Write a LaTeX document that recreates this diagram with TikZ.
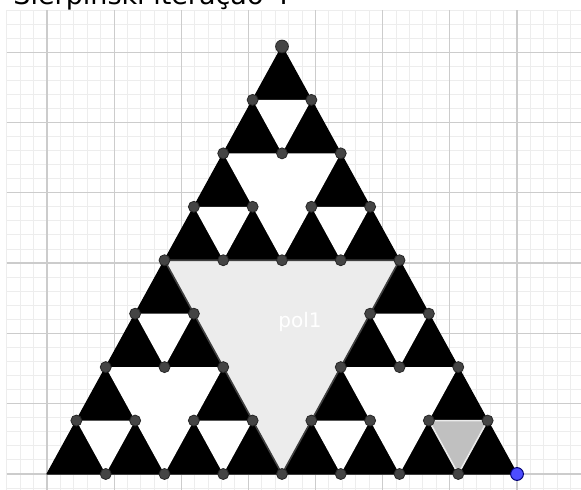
\documentclass[tikz,border=0pt]{standalone}
\usepackage{fontspec}
\setmainfont{DejaVu Sans}
\definecolor{polgray}{HTML}{ECECEC}
\definecolor{holegray}{HTML}{C0C0C0}
\definecolor{ptgray}{HTML}{444444}
\definecolor{ptblue}{HTML}{4D4DFF}

\begin{document}
\begin{tikzpicture}[
  x=0.5pt, y=-0.5pt,
  minorgrid/.style={draw=black!7, line width=0.5pt},
  majorgrid/.style={draw=black!20, line width=0.6pt},
  tri/.style={fill=black, draw=black, line width=0.6pt, line join=round},
  hole/.style={fill=white},
  bighole/.style={fill=polgray, draw=black!75, line width=0.8pt, line join=round},
  markhole/.style={fill=holegray, draw=black!8, line width=0.8pt, line join=round},
  ptdot/.style={fill=ptgray, draw=black!85, line width=0.4pt},
  freept/.style={fill=ptblue, draw=blue!45!black, line width=0.5pt}
]
\path[use as bounding box, fill=white] (0,0) rectangle (581,490);

% title, cut by the top edge
\node[anchor=base west, inner sep=0pt, font=\fontsize{13.5}{16}\selectfont] (title) at (13,4.5) {Sierpinski iteração 4};

% grid
\begin{scope}[shift={(47,474)}, x=33.57pt, y=35.15pt]
  \draw[minorgrid, step=0.2] (-0.6,-0.26) grid (8.0,6.6);
  \draw[majorgrid, step=1] (-0.6,-0.26) grid (8.0,6.6);
\end{scope}

\begin{scope}[shift={(47,474)}, x=29.375pt, y=26.72pt]
  % lattice points
  \foreach \j in {0,...,8}{
    \pgfmathtruncatemacro{\imax}{8-\j}
    \foreach \i in {0,...,\imax}
      \coordinate (v-\i-\j) at (\i+\j/2,\j);
  }

  \fill[tri] (v-0-0) -- (v-8-0) -- (v-0-8) -- cycle;

  % removed triangles
  \filldraw[bighole] (v-4-0) -- (v-4-4) -- (v-0-4) -- cycle;
  \foreach \a/\b in {0/0,4/0,0/4}{
    \pgfmathtruncatemacro{\ia}{\a+2}
    \pgfmathtruncatemacro{\jb}{\b+2}
    \fill[hole] (v-\ia-\b) -- (v-\ia-\jb) -- (v-\a-\jb) -- cycle;
  }
  \foreach \a/\b in {0/0,2/0,0/2,4/0,4/2,0/4,2/4,0/6}{
    \pgfmathtruncatemacro{\ia}{\a+1}
    \pgfmathtruncatemacro{\jb}{\b+1}
    \fill[hole] (v-\ia-\b) -- (v-\ia-\jb) -- (v-\a-\jb) -- cycle;
  }
  \filldraw[markhole] (v-7-0) -- (v-7-1) -- (v-6-1) -- cycle;

  % points
  \foreach \j in {0,...,8}{
    \pgfmathtruncatemacro{\imax}{8-\j}
    \foreach \i in {0,...,\imax}{
      \pgfmathtruncatemacro{\hide}{(\i+\j>4 && \i<4 && \j<4) || (\i==0 && \j==0) || \i==8 || \j==8}
      \ifnum\hide=0 \filldraw[ptdot] (v-\i-\j) circle[radius=2.75pt]; \fi
    }
  }
  \filldraw[ptdot] (v-0-8) circle[radius=3.2pt];
  \filldraw[freept] (v-8-0) circle[radius=3.2pt];
\end{scope}

\node[text=white, font=\fontsize{10}{12}\selectfont] (pol) at (300,322) {pol1};
\end{tikzpicture}
\end{document}
